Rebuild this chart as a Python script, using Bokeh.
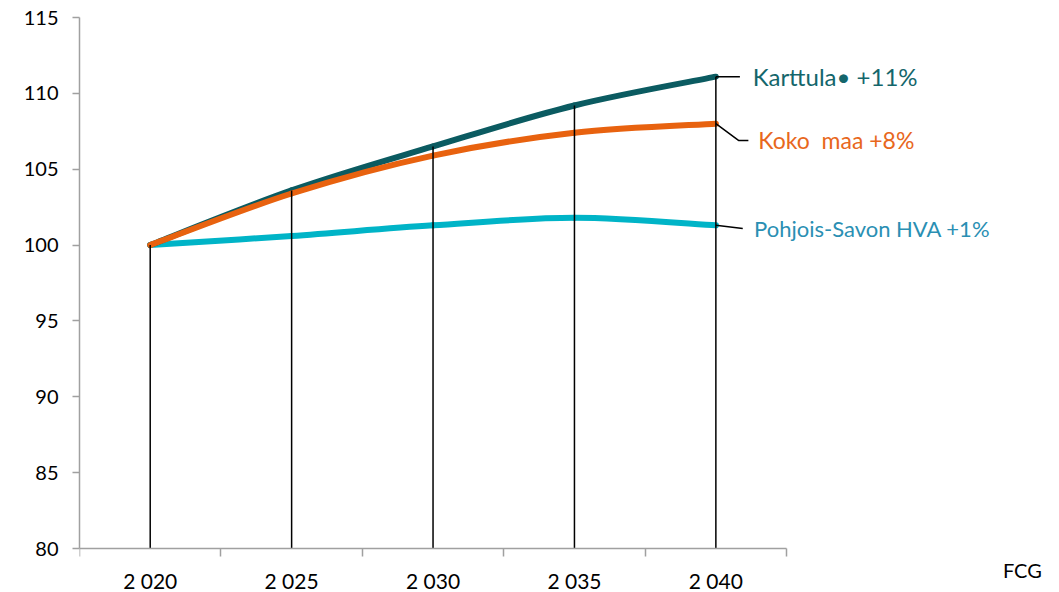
from bokeh.plotting import figure
from bokeh.models import Range1d, FixedTicker, Label
from bokeh.core.properties import value
from bokeh.embed import file_html
from bokeh.resources import INLINE

# ---- data ----
years = ["2 020", "2 025", "2 030", "2 035", "2 040"]
karttula = [100.0, 103.6, 106.5, 109.2, 111.1]
koko_maa = [100.0, 103.4, 105.9, 107.4, 108.0]
pohjois_savo = [100.0, 100.6, 101.3, 101.8, 101.3]
series_names = ["Karttula\u2022 +11%", "Koko\u00a0 maa +8%", "Pohjois-Savon HVA +1%"]
y_ticks = [80, 85, 90, 95, 100, 105, 110, 115]
source_note = "FCG"

FONT = "Lato"
colors = {"k": "#0b5b61", "m": "#e8620f", "p": "#00b4c7"}
text_colors = {"k": "#14666b", "m": "#e8671c", "p": "#2a8fb3"}

xs = [i + 0.5 for i in range(len(years))]
y_min, y_max = y_ticks[0], y_ticks[-1]

p = figure(width=1059, height=592, output_backend="svg", toolbar_location=None,
           x_range=Range1d(0, 6.93), y_range=Range1d(77.1, y_max),
           min_border_left=79, min_border_right=0, min_border_top=17, min_border_bottom=0)
p.outline_line_color = None
p.xgrid.visible = False
p.ygrid.visible = False
p.background_fill_color = "white"

# y axis
ya = p.yaxis[0]
ya.bounds = (y_min, y_max)
ya.ticker = FixedTicker(ticks=y_ticks, minor_ticks=[])
ya.axis_line_color = "#a0a0a0"
ya.major_tick_line_color = "#a0a0a0"
ya.major_tick_out = 7
ya.major_tick_in = 0
ya.minor_tick_line_color = None
ya.major_label_standoff = 14
ya.major_label_text_font = FONT
ya.major_label_text_font_size = "20px"
ya.major_label_text_color = "black"
ya.axis_line_width = 1.5
ya.major_tick_line_width = 1.5

# x axis (drawn at y = 80)
xa = p.xaxis[0]
xa.fixed_location = y_min
xa.bounds = (0, len(years))
xa.ticker = FixedTicker(ticks=xs, minor_ticks=list(range(len(years) + 1)))
xa.major_label_overrides = {x: y for x, y in zip(xs, years)}
xa.axis_line_color = "#a0a0a0"
xa.axis_line_width = 1.5
xa.major_tick_line_color = None
xa.major_tick_out = 0
xa.major_tick_in = 0
xa.minor_tick_line_color = "#a0a0a0"
xa.minor_tick_line_width = 1.5
xa.minor_tick_out = 8
xa.minor_tick_in = 0
xa.major_label_standoff = 11
xa.major_label_text_font = FONT
xa.major_label_text_font_size = "21px"
xa.major_label_text_color = "black"


def smooth(ys):
    n = len(ys)
    P = list(zip(xs, ys))
    out = {k: [] for k in ("x0", "y0", "x1", "y1", "cx0", "cy0", "cx1", "cy1")}
    for i in range(n - 1):
        p0 = P[i - 1] if i > 0 else P[i]
        p1 = P[i]
        p2 = P[i + 1]
        p3 = P[i + 2] if i + 2 < n else P[i + 1]
        out["x0"].append(p1[0]); out["y0"].append(p1[1])
        out["x1"].append(p2[0]); out["y1"].append(p2[1])
        out["cx0"].append(p1[0] + (p2[0] - p0[0]) / 6)
        out["cy0"].append(p1[1] + (p2[1] - p0[1]) / 6)
        out["cx1"].append(p2[0] - (p3[0] - p1[0]) / 6)
        out["cy1"].append(p2[1] - (p3[1] - p1[1]) / 6)
    return out


for key, ys in (("p", pohjois_savo), ("k", karttula), ("m", koko_maa)):
    p.bezier(line_color=colors[key], line_width=6, line_cap="round", **smooth(ys))

# drop lines
tops = [max(a, b, c) for a, b, c in zip(karttula, koko_maa, pohjois_savo)]
p.segment(x0=xs, y0=[y_min] * len(xs), x1=xs, y1=tops, line_color="black", line_width=1.5)

# leader lines and labels
end_x = xs[-1]
p.segment(x0=[end_x], y0=[karttula[-1]], x1=[end_x + 0.17], y1=[karttula[-1]],
          line_color="black", line_width=1.5)
m_lab_y = koko_maa[-1] - 1.1
p.line(x=[end_x, end_x + 0.16, end_x + 0.23], y=[koko_maa[-1], m_lab_y, m_lab_y],
       line_color="black", line_width=1.5)
p_lab_y = pohjois_savo[-1] - 0.2
p.line(x=[end_x, end_x + 0.19], y=[pohjois_savo[-1], p_lab_y],
       line_color="black", line_width=1.5)

for name, xl, yl, key, size in ((series_names[0], end_x + 0.26, karttula[-1], "k", "24px"),
                                (series_names[1], end_x + 0.30, m_lab_y, "m", "23px"),
                                (series_names[2], end_x + 0.27, p_lab_y, "p", "22px")):
    p.add_layout(Label(x=xl, y=yl, text=name, text_font=FONT, text_font_size=size,
                       text_color=text_colors[key], text_baseline="middle", text_align="left"))

p.text(x=[6.53], y=[78.6], text=[source_note], text_font=value(FONT), text_font_size="20px",
       text_color="black", text_baseline="middle", text_align="left")

open("out.html", "w").write(file_html(p, INLINE))
